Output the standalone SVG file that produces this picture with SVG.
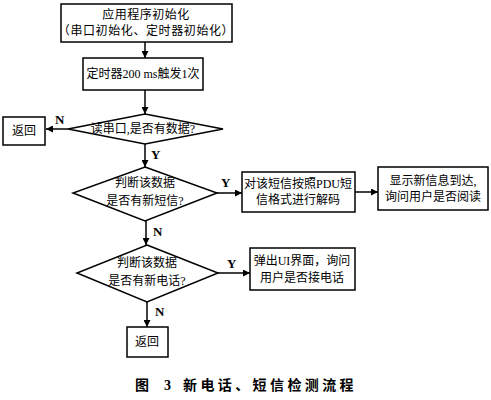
<svg xmlns="http://www.w3.org/2000/svg" width="491" height="400" viewBox="0 0 491 400">
<defs>
<marker id="ah" viewBox="0 0 10 10" refX="10" refY="5" markerWidth="7" markerHeight="7" markerUnits="userSpaceOnUse" orient="auto">
<path d="M0,0 L10,5 L0,10 Z" fill="#000"/>
</marker>
<style>
.b{fill:#fff;stroke:#000;stroke-width:1.5}
.t{font-family:"Liberation Serif","Noto Sans CJK SC",serif;font-size:12px;fill:#000;text-anchor:middle}
.l{font-family:"Liberation Serif",serif;font-size:13px;font-weight:bold;fill:#000}
.c{fill:none;stroke:#000;stroke-width:1.5;marker-end:url(#ah)}
.cap{font-family:"Liberation Serif","Noto Sans CJK SC",serif;font-size:14px;font-weight:bold;fill:#000}
</style>
</defs>
<rect width="491" height="400" fill="#fff"/>
<g id="connectors">
<line class="c" x1="145" y1="42" x2="145" y2="58"/>
<line class="c" x1="145" y1="90" x2="145" y2="114"/>
<line class="c" x1="68" y1="129" x2="46" y2="129"/>
<line class="c" x1="145" y1="144" x2="145" y2="167"/>
<line class="c" x1="217" y1="193" x2="242" y2="193"/>
<line class="c" x1="355" y1="192" x2="378" y2="192"/>
<line class="c" x1="146" y1="221" x2="146" y2="245"/>
<line class="c" x1="218" y1="273" x2="250" y2="273"/>
<line class="c" x1="147" y1="302" x2="147" y2="327"/>
<text class="l" x="55" y="124">N</text>
<text class="l" x="151" y="159">Y</text>
<text class="l" x="221" y="187">Y</text>
<text class="l" x="153" y="236">N</text>
<text class="l" x="227" y="268">Y</text>
<text class="l" x="155" y="316">N</text>
</g>
<g id="init">
<rect class="b" x="61" y="4" width="171" height="38"/>
<text class="t" x="146" y="19" letter-spacing="0.5">应用程序初始化</text>
<text class="t" x="146" y="35" letter-spacing="0.6">（串口初始化、定时器初始化）</text>
</g>
<g id="timer">
<rect class="b" x="83" y="58" width="120" height="32"/>
<text class="t" x="143" y="78">定时器200 ms触发1次</text>
</g>
<g id="readSerial">
<polygon class="b" points="145,114 223,129 145,144 68,129"/>
<text class="t" x="143" y="133">读串口,是否有数据?</text>
</g>
<g id="return1">
<rect class="b" x="3" y="117" width="42" height="28"/>
<text class="t" x="24" y="135">返回</text>
</g>
<g id="checkSms">
<polygon class="b" points="145,167 217,193 145,221 73,193"/>
<text class="t" x="145" y="187">判断该数据</text>
<text class="t" x="145" y="205">是否有新短信?</text>
</g>
<g id="decode">
<rect class="b" x="242" y="172" width="113" height="40"/>
<text class="t" x="298" y="188">对该短信按照PDU短</text>
<text class="t" x="298" y="204">信格式进行解码</text>
</g>
<g id="showMsg">
<rect class="b" x="378" y="167" width="110" height="43"/>
<text class="t" x="433" y="185">显示新信息到达,</text>
<text class="t" x="433" y="201">询问用户是否阅读</text>
</g>
<g id="checkCall">
<polygon class="b" points="147,245 218,273 147,302 77,273"/>
<text class="t" x="147" y="267">判断该数据</text>
<text class="t" x="147" y="285">是否有新电话?</text>
</g>
<g id="popup">
<rect class="b" x="250" y="248" width="105" height="42"/>
<text class="t" x="302" y="265">弹出UI界面，询问</text>
<text class="t" x="302" y="282">用户是否接电话</text>
</g>
<g id="return2">
<rect class="b" x="127" y="327" width="41" height="30"/>
<text class="t" x="147" y="346">返回</text>
</g>
<text class="cap" x="135" y="390"><tspan>图</tspan><tspan x="164">3</tspan></text>
<text class="cap" x="183" y="390" letter-spacing="3.4">新电话、短信检测流程</text>
</svg>
